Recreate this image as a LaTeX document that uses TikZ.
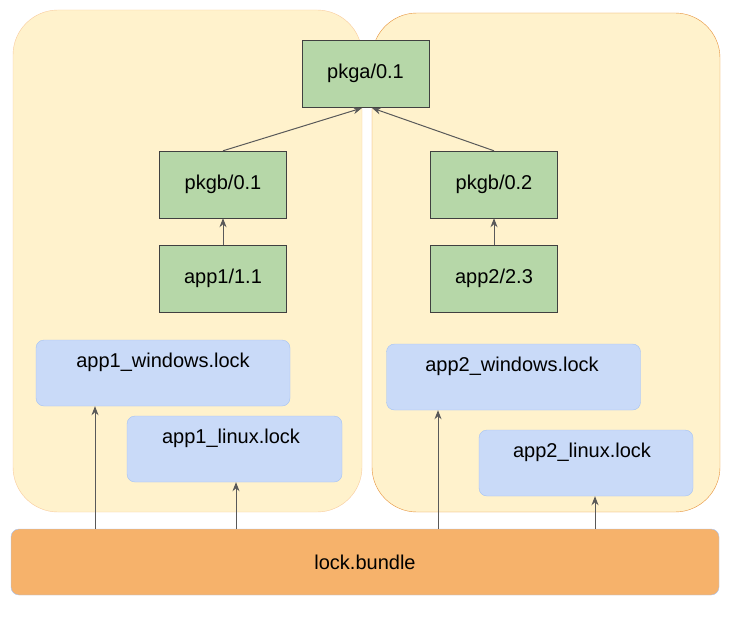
\documentclass[tikz,border=0pt]{standalone}
\usepackage{fontspec}
\setmainfont{Liberation Sans}
\usetikzlibrary{arrows.meta}
\begin{document}
\begin{tikzpicture}[x=1pt,y=-1pt,
  pkg/.style={draw=black!75,fill={rgb,255:red,182;green,215;blue,168},minimum width=127pt,minimum height=67pt,inner sep=0,font=\fontsize{20}{24}\selectfont},
  lockbox/.style={draw={rgb,255:red,164;green,194;blue,244},fill={rgb,255:red,201;green,218;blue,248},rounded corners=8pt,minimum width=254pt,minimum height=66pt,inner sep=0},
  lbl/.style={font=\fontsize{20}{24}\selectfont,inner sep=0,anchor=base},
  arr/.style={draw={rgb,255:red,89;green,89;blue,89},line width=1pt,-{Stealth[length=9pt,width=7pt]}}]
\useasboundingbox (0,0) rectangle (735,618);
\draw[draw={rgb,255:red,249;green,203;blue,156},fill={rgb,255:red,255;green,242;blue,204},rounded corners=45pt] (13,10) rectangle (362,512);
\draw[draw={rgb,255:red,230;green,145;blue,56},fill={rgb,255:red,255;green,242;blue,204},rounded corners=45pt] (372,13) rectangle (720,512);
\node[pkg] (pa) at (365.5,73.5) {pkga/0.1};
\node[pkg] (pb1) at (223,184.5) {pkgb/0.1};
\node[pkg] (a1) at (223,278.5) {app1/1.1};
\node[pkg] (pb2) at (494,184.5) {pkgb/0.2};
\node[pkg] (a2) at (494,278.5) {app2/2.3};
\node[lockbox] (w1) at (163,373) {};
\node[lockbox,minimum width=215pt] (l1) at (234.5,449) {};
\node[lockbox] (w2) at (513.5,377) {};
\node[lockbox,minimum width=214pt] (l2) at (586,463) {};
\node[lbl] at (163,367) {app1\_windows.lock};
\node[lbl] at (231,443) {app1\_linux.lock};
\node[lbl] at (512,371) {app2\_windows.lock};
\node[lbl] at (582,457) {app2\_linux.lock};
\node[draw={rgb,255:red,164;green,194;blue,244},fill={rgb,255:red,246;green,178;blue,107},rounded corners=8pt,minimum width=708pt,minimum height=66pt,font=\fontsize{20}{24}\selectfont] (lb) at (365,562) {lock.bundle};
\coordinate (pt1) at (362,108);
\coordinate (pt2) at (372,108);
\draw[arr] (pb1.north) -- (pt1);
\draw[arr] (pb2.north) -- (pt2);
\draw[arr] (a1) -- (pb1);
\draw[arr] (a2) -- (pb2);
\draw[arr] (lb.north -| 95,0) -- (w1.south -| 95,0);
\draw[arr] (lb.north -| 236,0) -- (l1.south -| 236,0);
\draw[arr] (lb.north -| 438,0) -- (w2.south -| 438,0);
\draw[arr] (lb.north -| 595,0) -- (l2.south -| 595,0);
\end{tikzpicture}
\end{document}
